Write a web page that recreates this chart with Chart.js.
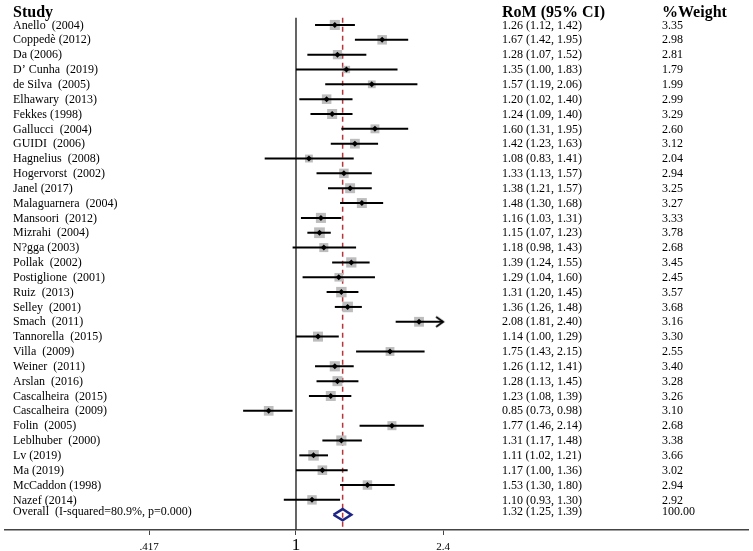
<!DOCTYPE html>
<html>
<head>
<meta charset="utf-8">
<script src="https://cdn.jsdelivr.net/npm/chart.js@4/dist/chart.umd.min.js"></script>
<style>
  html, body { margin: 0; padding: 0; background: #fff; }
  #wrap { width: 753px; height: 551px; }
</style>
</head>
<body>
<div id="wrap"><canvas id="forest"></canvas></div>
<script>
// study data (ratio of means, 95% CI, weight)
const studies = ['Anello  (2004)', 'Coppedè (2012)', 'Da (2006)', 'D\u2019 Cunha  (2019)', 'de Silva  (2005)',
    'Elhawary  (2013)', 'Fekkes (1998)', 'Gallucci  (2004)', 'GUIDI  (2006)', 'Hagnelius  (2008)',
    'Hogervorst  (2002)', 'Janel (2017)', 'Malaguarnera  (2004)', 'Mansoori  (2012)', 'Mizrahi  (2004)',
    'N?gga (2003)', 'Pollak  (2002)', 'Postiglione  (2001)', 'Ruiz  (2013)', 'Selley  (2001)',
    'Smach  (2011)', 'Tannorella  (2015)', 'Villa  (2009)', 'Weiner  (2011)', 'Arslan  (2016)',
    'Cascalheira  (2015)', 'Cascalheira  (2009)', 'Folin  (2005)', 'Leblhuber  (2000)', 'Lv (2019)',
    'Ma (2019)', 'McCaddon (1998)', 'Nazef (2014)'];
const rom = [1.26, 1.67, 1.28, 1.35, 1.57, 1.20, 1.24, 1.60, 1.42, 1.08, 1.33, 1.38, 1.48, 1.16, 1.15,
    1.18, 1.39, 1.29, 1.31, 1.36, 2.08, 1.14, 1.75, 1.26, 1.28, 1.23, 0.85, 1.77, 1.31, 1.11, 1.17, 1.53, 1.10];
const lower = [1.12, 1.42, 1.07, 1.00, 1.19, 1.02, 1.09, 1.31, 1.23, 0.83, 1.13, 1.21, 1.30, 1.03, 1.07,
    0.98, 1.24, 1.04, 1.20, 1.26, 1.81, 1.00, 1.43, 1.12, 1.13, 1.08, 0.73, 1.46, 1.17, 1.02, 1.00, 1.30, 0.93];
const upper = [1.42, 1.95, 1.52, 1.83, 2.06, 1.40, 1.40, 1.95, 1.63, 1.41, 1.57, 1.57, 1.68, 1.31, 1.23,
    1.43, 1.55, 1.60, 1.45, 1.48, 2.40, 1.29, 2.15, 1.41, 1.45, 1.39, 0.98, 2.14, 1.48, 1.21, 1.36, 1.80, 1.30];
const weight = [3.35, 2.98, 2.81, 1.79, 1.99, 2.99, 3.29, 2.60, 3.12, 2.04, 2.94, 3.25, 3.27, 3.33, 3.78,
    2.68, 3.45, 2.45, 3.57, 3.68, 3.16, 3.30, 2.55, 3.40, 3.28, 3.26, 3.10, 2.68, 3.38, 3.66, 3.02, 2.94, 2.92];

const overallLabel = 'Overall  (I-squared=80.9%, p=0.000)';
const overall = { rom: 1.32, lower: 1.25, upper: 1.39, weight: 100.00 };

const tickVals = [0.417, 1, 2.4];
const tickLabels = ['.417', '1', '2.4'];
const axisMin = 0.1769, axisMax = 14.74; // log axis limits
const clipAt = 2.4; // CIs reaching this get an arrow

const serif = '"Liberation Serif", "Times New Roman", serif';
const nRows = studies.length; // overall is drawn in row nRows

// little chevron used as the arrow head on clipped CIs
const arrowImg = document.createElement('canvas');
arrowImg.width = 20; arrowImg.height = 14;
(function () {
    const c = arrowImg.getContext('2d');
    c.strokeStyle = '#000';
    c.lineWidth = 2;
    c.beginPath();
    c.moveTo(3, 2); c.lineTo(10, 7); c.lineTo(3, 12);
    c.stroke();
})();

const datasets = [];

// weight boxes (area ~ weight)
datasets.push({
    data: rom.map((v, i) => ({ x: v, y: i })),
    pointStyle: 'rect',
    pointRadius: weight.map(w => Math.sqrt(w) * 3.9),
    backgroundColor: '#bdbdbd',
    borderWidth: 0,
    order: 5
});

// CI lines
rom.forEach((v, i) => {
    datasets.push({
        data: [{ x: lower[i], y: i }, { x: Math.min(upper[i], clipAt), y: i }],
        showLine: true,
        borderColor: '#000',
        borderWidth: 2,
        pointRadius: 0,
        order: 3
    });
});

// arrows for clipped intervals
datasets.push({
    data: upper.map((u, i) => ({ x: u, y: i })).filter(p => p.x >= clipAt).map(p => ({ x: clipAt, y: p.y })),
    pointStyle: arrowImg,
    pointRadius: 7,
    order: 2
});

// point estimates
datasets.push({
    data: rom.map((v, i) => ({ x: v, y: i })),
    pointStyle: 'rectRot',
    pointRadius: 3,
    backgroundColor: '#000',
    borderWidth: 0,
    order: 1
});

// line of no effect
datasets.push({
    data: [{ x: 1, y: -0.48 }, { x: 1, y: 34.03 }],
    showLine: true,
    borderColor: '#333',
    borderWidth: 1.5,
    pointRadius: 0,
    order: 6
});

// overall estimate line
datasets.push({
    data: [{ x: overall.rom, y: -0.48 }, { x: overall.rom, y: 34.03 }],
    showLine: true,
    borderColor: '#b5353a',
    borderWidth: 1.5,
    borderDash: [5, 4],
    pointRadius: 0,
    order: 6
});

// overall diamond
datasets.push({
    data: [
        { x: overall.lower, y: nRows },
        { x: overall.rom, y: nRows - 0.38 },
        { x: overall.upper, y: nRows },
        { x: overall.rom, y: nRows + 0.38 },
        { x: overall.lower, y: nRows }
    ],
    showLine: true,
    borderColor: '#1c2585',
    backgroundColor: '#fff',
    fill: true,
    borderWidth: 2.5,
    pointRadius: 0,
    order: 0
});

// table text next to the plot
const tablePlugin = {
    id: 'forestTable',
    afterDraw(chart) {
        const ctx = chart.ctx;
        const y = chart.scales.y;
        ctx.save();
        ctx.fillStyle = '#000';
        ctx.textBaseline = 'middle';
        ctx.textAlign = 'left';

        ctx.font = 'bold 16px ' + serif;
        const hy = y.getPixelForValue(-0.82);
        ctx.fillText('Study', 13, hy);
        ctx.fillText('RoM (95% CI)', 502, hy);
        ctx.fillText('%Weight', 662, hy);

        ctx.font = '12px ' + serif;
        const fmt = (a, b, c) => a.toFixed(2) + ' (' + b.toFixed(2) + ', ' + c.toFixed(2) + ')';
        studies.forEach((s, i) => {
            const py = y.getPixelForValue(i) + 0.5;
            ctx.fillText(s, 13, py);
            ctx.fillText(fmt(rom[i], lower[i], upper[i]), 502, py);
            ctx.fillText(weight[i].toFixed(2), 662, py);
        });
        const oy = y.getPixelForValue(nRows) - 3;
        ctx.fillText(overallLabel, 13, oy);
        ctx.fillText(fmt(overall.rom, overall.lower, overall.upper), 502, oy);
        ctx.fillText(overall.weight.toFixed(2), 662, oy);
        ctx.restore();
    }
};

new Chart(document.getElementById('forest'), {
    type: 'scatter',
    data: { datasets },
    options: {
        responsive: true,
        maintainAspectRatio: false,
        animation: false,
        layout: { autoPadding: false, padding: { left: 5, right: 5, top: 3, bottom: 0 } },
        plugins: { legend: { display: false }, tooltip: { enabled: false } },
        scales: {
            x: {
                type: 'logarithmic',
                min: axisMin,
                max: axisMax,
                afterBuildTicks: scale => { scale.ticks = tickVals.map(v => ({ value: v })); },
                afterFit: scale => { scale.height = 21; },
                border: { display: true, color: '#444', width: 1.5 },
                grid: { display: true, drawOnChartArea: false, drawTicks: true, tickLength: 5, color: '#444' },
                ticks: {
                    autoSkip: false,
                    maxRotation: 0,
                    padding: 2,
                    color: '#000',
                    callback: (v, i) => tickLabels[i],
                    font: c => (c.tick && c.tick.value === 1)
                        ? { family: serif, size: 17, lineHeight: '17px' }
                        : { family: serif, size: 11, lineHeight: '21px' }
                }
            },
            y: {
                type: 'linear',
                reverse: true,
                min: -1.48,
                max: 34.03,
                display: false
            }
        }
    },
    plugins: [tablePlugin]
});
</script>
</body>
</html>
